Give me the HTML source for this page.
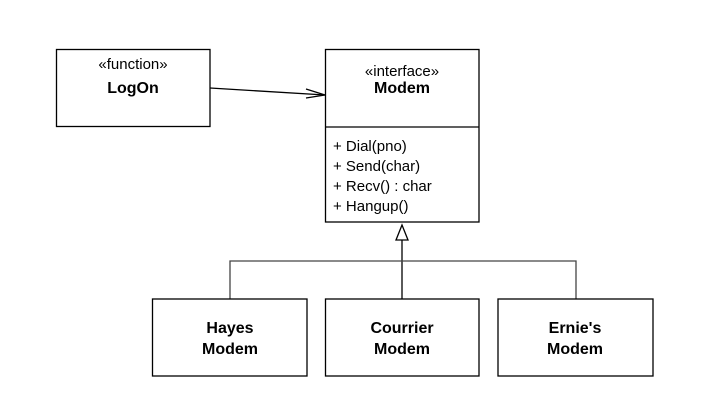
<!DOCTYPE html>
<html><head><style>
body{margin:0;background:#fff;}
svg text{font-family:"Liberation Sans",Arial,sans-serif;fill:#000;}
</style></head><body>
<svg width="704" height="406" viewBox="0 0 704 406" xmlns="http://www.w3.org/2000/svg">
<g fill="none" stroke="#000" stroke-width="1.3">
<rect x="56.5" y="49.5" width="153.5" height="77"/>
<rect x="325.5" y="49.5" width="153.5" height="172.5"/>
<line x1="325.5" y1="127" x2="479" y2="127"/>
<line x1="210" y1="88" x2="325" y2="95"/>
<polyline points="306,89 325,95 306,98"/>
<polygon points="402,225 396,240 408,240"/>
<line x1="402" y1="240" x2="402" y2="299"/>
<polyline points="230,299 230,261 576,261 576,299" stroke="#444"/>
<rect x="152.5" y="299" width="154.5" height="77"/>
<rect x="325.5" y="299" width="153.5" height="77"/>
<rect x="498" y="299" width="155" height="77"/>
</g>
<g font-size="15" text-anchor="middle">
<text x="133" y="69">«function»</text>
<text x="133" y="93" font-weight="bold" font-size="16">LogOn</text>
<text x="402" y="76">«interface»</text>
<text x="402" y="93" font-weight="bold" font-size="16">Modem</text>
<text x="230" y="333" font-weight="bold" font-size="16">Hayes</text>
<text x="230" y="354" font-weight="bold" font-size="16">Modem</text>
<text x="402" y="333" font-weight="bold" font-size="16">Courrier</text>
<text x="402" y="354" font-weight="bold" font-size="16">Modem</text>
<text x="575" y="333" font-weight="bold" font-size="16">Ernie's</text>
<text x="575" y="354" font-weight="bold" font-size="16">Modem</text>
</g>
<g font-size="15">
<text x="333" y="151">+ Dial(pno)</text>
<text x="333" y="171">+ Send(char)</text>
<text x="333" y="191">+ Recv() : char</text>
<text x="333" y="211">+ Hangup()</text>
</g>
</svg>
</body></html>
